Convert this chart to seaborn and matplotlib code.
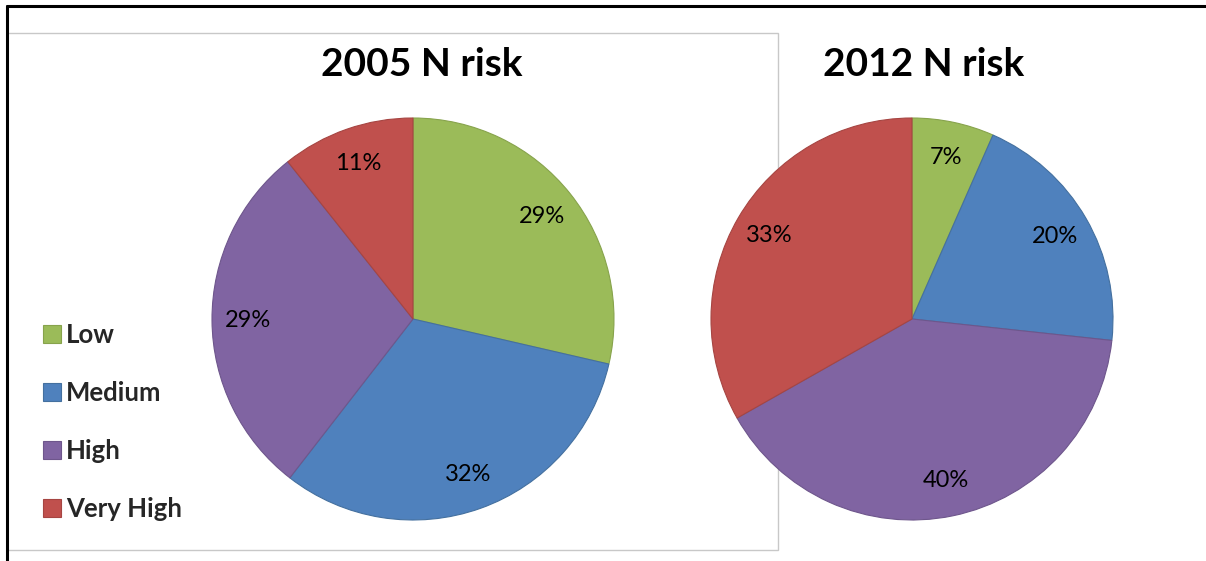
import matplotlib
matplotlib.use("Agg")
import numpy as np
import matplotlib.pyplot as plt
from matplotlib.patches import Rectangle, Patch
from matplotlib.lines import Line2D
import seaborn as sns

sns.set_theme(style="white")
plt.rcParams["font.family"] = ["Lato", "DejaVu Sans"]

# Share of area in each nitrogen risk class (%)
categories = ["Low", "Medium", "High", "Very High"]
risk_2005 = [28.6, 31.9, 28.8, 10.7]
risk_2012 = [6.6, 20.1, 40.1, 33.2]
titles = ["2005 N risk", "2012 N risk"]
colors = ["#9BBB59", "#4F81BD", "#8064A2", "#C0504D"]
edge_colors = ["#87A34C", "#44709F", "#6E568C", "#A64542"]

W, H = 1206, 561
fig = plt.figure(figsize=(W / 100, H / 100), dpi=100)


def px_axes(cx, cy, r):
    return fig.add_axes([(cx - r) / W, (H - cy - r) / H, 2 * r / W, 2 * r / H])


# Chart area box around the first pie and the legend
fig.add_artist(Rectangle((7 / W, (H - 550) / H), (778 - 7) / W, (550 - 33) / H,
                         transform=fig.transFigure, facecolor="none",
                         edgecolor="#C8C8C8", linewidth=1.0, zorder=0))
# Outer frame (top and left)
fig.add_artist(Line2D([7 / W, 1.0], [(H - 6) / H] * 2, transform=fig.transFigure,
                      color="black", linewidth=2.2))
fig.add_artist(Line2D([7 / W] * 2, [0, (H - 6) / H], transform=fig.transFigure,
                      color="black", linewidth=2.2))

centers = [(413, 319), (912, 319)]
title_x = [422, 924]
for data, title, (cx, cy), tx in zip([risk_2005, risk_2012], titles, centers, title_x):
    ax = px_axes(cx, cy, 202)
    wedges, texts = ax.pie(data, colors=colors, startangle=90, counterclock=False,
                           radius=1.0, wedgeprops=dict(linewidth=0.8))
    for w, ec in zip(wedges, edge_colors):
        w.set_edgecolor(ec)
    total = sum(data)
    for w, v in zip(wedges, data):
        ang = np.deg2rad((w.theta1 + w.theta2) / 2)
        ax.text(0.82 * np.cos(ang), 0.82 * np.sin(ang), f"{v / total * 100:.0f}%",
                ha="center", va="center", fontsize=17, color="black")
    ax.set_xlim(-1.005, 1.005)
    ax.set_ylim(-1.005, 1.005)
    ax.axis("off")
    fig.text(tx / W, (H - 65) / H, title, ha="center", va="center",
             fontsize=28, fontweight="bold", color="black")

handles = [Patch(facecolor=c, edgecolor=e, linewidth=0.8) for c, e in zip(colors, edge_colors)]
fig.legend(handles, categories, loc="upper left",
           bbox_to_anchor=(20 / W, (H - 300) / H), frameon=False,
           handlelength=0.68, handleheight=0.68, handletextpad=0.2,
           labelspacing=1.32, prop=dict(weight="bold", size=18.5))

fig.savefig("out.png", dpi=100, facecolor="white")
